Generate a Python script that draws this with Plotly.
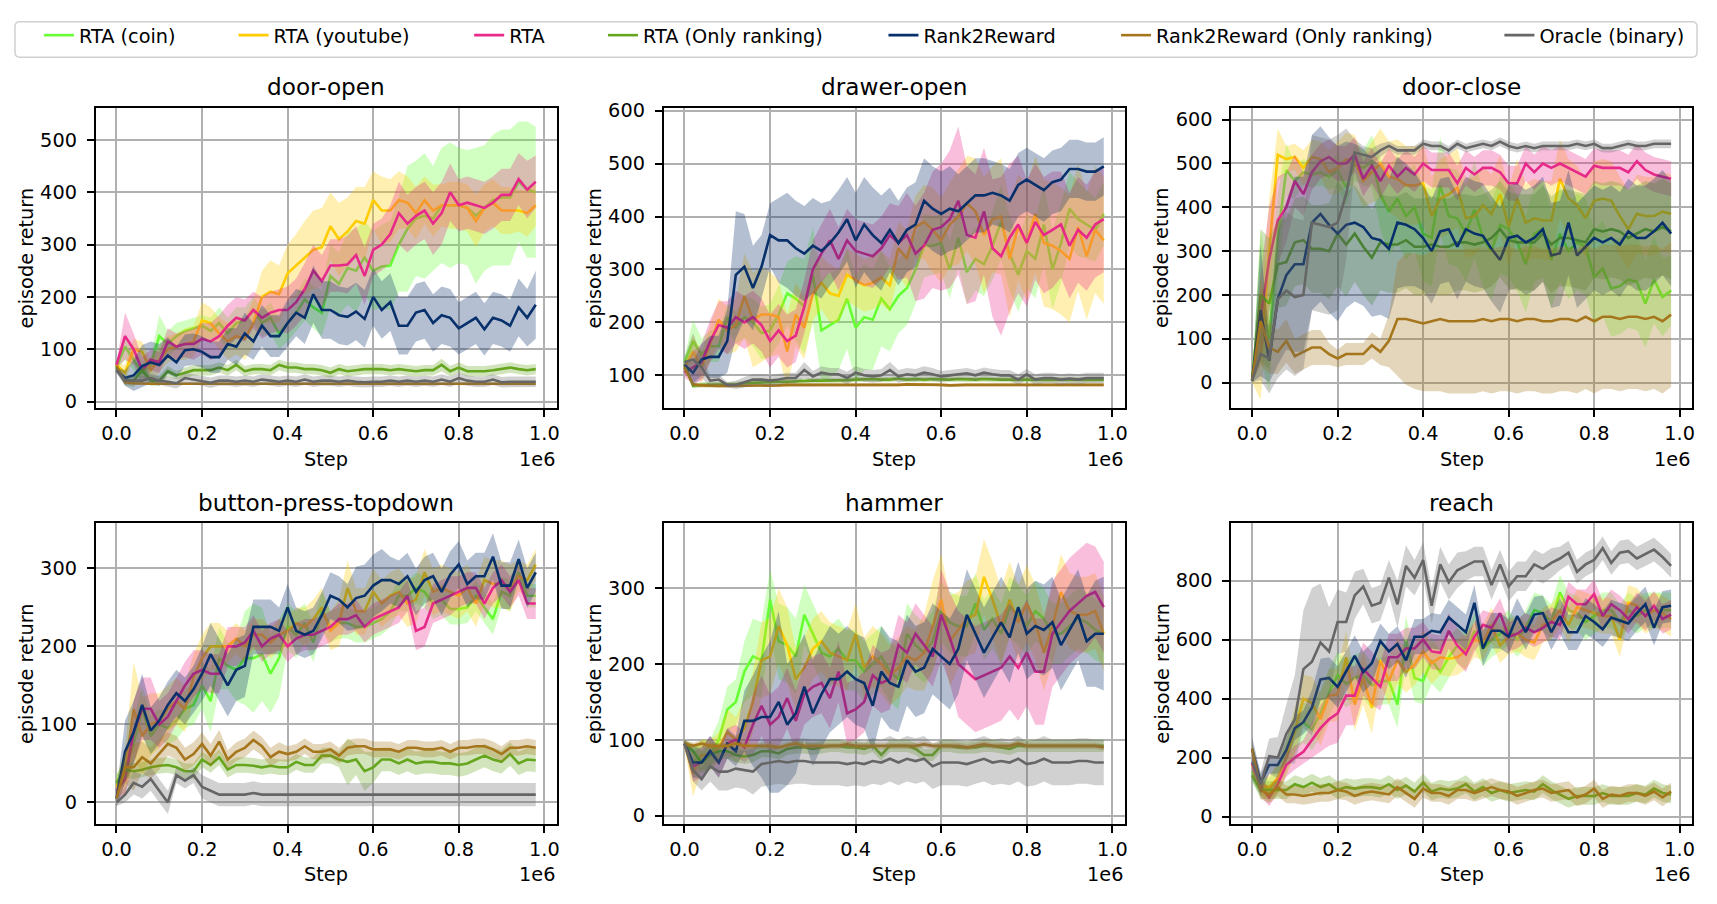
import plotly.graph_objects as go

STEPS = [0, 20000, 40000, 60000, 80000, 100000, 120000, 140000, 160000, 180000,
         200000, 220000, 240000, 260000, 280000, 300000, 320000, 340000, 360000, 380000,
         400000, 420000, 440000, 460000, 480000, 500000, 520000, 540000, 560000, 580000,
         600000, 620000, 640000, 660000, 680000, 700000, 720000, 740000, 760000, 780000,
         800000, 820000, 840000, 860000, 880000, 900000, 920000, 940000, 960000, 980000]

SERIES = ["RTA (coin)", "RTA (youtube)", "RTA", "RTA (Only ranking)",
          "Rank2Reward", "Rank2Reward (Only ranking)", "Oracle (binary)"]
COLORS = ["#66ff33", "#ffcc00", "#e7298a", "#66a61e", "#08306b", "#a6761d", "#666666"]
TASKS = ["door-open", "drawer-open", "door-close", "button-press-topdown", "hammer", "reach"]
X_TICKS = [0, 200000, 400000, 600000, 800000, 1000000]
X_TICK_TEXT = ["0.0", "0.2", "0.4", "0.6", "0.8", "1.0"]

# ---------------- door-open ----------------
do_coin = [65,105,80,55,70,125,110,125,135,140, 145,135,150,130,150,155,175,150,160,130,
           150,170,195,180,170,240,225,255,250,275, 250,258,260,300,330,350,355,350,375,375,
           375,370,355,370,385,390,390,420,405,400]
do_coin_sd = [5,25,20,20,15,40,25,25,20,20, 20,25,30,30,30,25,25,25,30,30,
              35,35,40,40,45,60,60,70,80,70, 75,80,85,90,120,110,120,100,110,120,
              110,110,130,120,125,130,130,115,130,125]
do_yt = [70,55,100,95,60,80,100,105,110,115, 155,150,130,115,125,120,150,200,210,205,
         245,260,275,290,295,335,310,325,345,340, 385,365,365,385,380,360,385,365,375,375,
         375,370,345,370,380,365,365,365,360,375]
do_yt_sd = [5,15,20,20,20,25,25,25,30,30, 35,30,30,35,35,40,45,50,60,55,
            55,60,70,75,75,65,70,65,65,70, 55,65,60,55,50,50,45,50,40,45,
            45,45,50,45,45,45,45,40,45,40]
do_rta = [70,125,100,60,80,75,115,105,110,110, 120,115,125,145,160,155,175,160,170,175,
          175,190,215,250,230,260,260,262,280,240, 290,300,320,360,340,355,365,340,360,400,
          375,380,375,370,380,395,395,425,405,420]
do_rta_sd = [5,45,30,25,20,20,25,25,25,30, 30,35,40,40,40,40,35,40,40,40,
             45,45,50,50,50,50,50,55,55,55, 50,50,55,60,55,55,55,60,60,55,
             50,50,50,50,50,50,50,50,55,50]
do_rank = [65,40,40,60,40,40,58,50,55,60, 60,60,65,60,70,58,62,62,60,70,
           65,65,62,62,60,55,62,58,60,62, 62,62,60,62,60,58,60,60,70,58,
           65,58,58,58,60,62,65,62,60,62]
do_rank_sd = [5,10,12,12,10,10,10,8,10,10, 10,10,10,10,10,10,10,10,10,10,
              10,10,10,10,10,10,10,10,10,10, 10,10,10,10,10,10,10,10,12,10,
              10,10,10,10,10,10,10,10,10,10]
do_r2r = [60,45,50,68,75,70,88,75,98,100, 95,85,85,110,105,130,115,145,125,125,
          150,170,160,205,175,175,165,162,172,158, 200,175,190,145,145,170,175,150,165,160,
          140,150,160,138,160,155,145,180,160,185]
do_r2r_sd = [5,15,30,40,40,40,35,30,30,30, 30,30,30,30,35,40,35,40,40,40,
             45,45,50,55,55,55,55,55,55,55, 55,55,55,55,55,55,55,55,55,55,
             50,50,50,50,50,50,50,55,55,65]
do_r2rrank = [68,37,35,34,34,34,34,34,34,34, 34,34,34,34,34,34,34,34,34,34,
              34,34,34,34,34,34,34,34,34,34, 34,34,34,34,34,34,34,34,34,34,
              34,34,34,34,34,34,34,34,34,34]
do_r2rrank_sd = [4,3,3,3,3,3,3,3,3,3, 3,3,3,3,3,3,3,3,3,3, 3,3,3,3,3,3,3,3,3,3,
                 3,3,3,3,3,3,3,3,3,3, 3,3,3,3,3,3,3,3,3,3]
do_oracle = [60,40,40,40,45,40,38,35,45,42, 40,36,40,40,38,40,38,42,40,38,
             40,38,42,38,40,40,38,40,38,37, 38,38,40,38,40,38,40,38,42,38,
             45,40,38,38,42,37,38,38,38,38]
do_oracle_sd = [5,8,8,8,8,8,10,10,10,10, 10,10,10,10,10,10,10,10,10,10,
                10,10,10,10,10,10,10,10,10,10, 10,10,10,10,10,10,10,10,10,10,
                10,10,10,10,10,10,10,10,10,10]

# ---------------- drawer-open ----------------
dr_coin = [125,165,140,155,155,210,190,210,200,180, 185,215,255,245,230,290,185,195,205,245,
           190,210,205,245,225,250,265,300,345,345, 350,300,360,295,320,310,345,390,330,290,
           335,320,385,300,350,415,395,385,375,405]
dr_coin_sd = [10,40,30,30,30,25,30,40,45,50, 50,55,60,80,90,90,95,100,95,95,
              100,100,95,90,80,70,70,65,60,55, 55,55,55,60,60,60,65,70,70,70,
              70,75,75,75,75,70,70,65,60,60]
dr_yt = [115,145,115,160,205,185,195,250,205,215, 215,210,145,215,190,255,275,255,250,290,
         280,270,275,285,270,340,320,380,390,375, 355,385,400,425,410,365,395,400,320,380,
         350,405,350,345,335,320,380,325,375,355]
dr_yt_sd = [10,30,30,35,40,45,50,80,90,90, 80,70,70,60,60,50,50,55,50,50,
            50,50,50,50,50,50,55,60,70,80, 80,80,90,90,100,110,100,110,110,100,
            110,110,120,120,120,120,120,120,120,120]
dr_rta = [105,115,125,165,195,190,210,200,210,195, 165,185,165,175,230,300,330,355,320,355,
          335,330,325,340,365,350,365,330,345,375, 380,395,430,365,360,410,340,325,360,385,
          350,390,365,375,385,345,375,360,385,395]
dr_rta_sd = [10,30,35,40,45,50,50,50,50,50, 50,50,50,50,50,55,55,60,60,60,
             60,60,60,60,60,70,80,90,100,110, 120,130,140,130,120,120,130,150,140,130,
             120,110,110,110,100,100,100,100,100,100]
dr_rank = [120,80,82,82,82,82,83,85,86,87, 87,88,88,89,89,90,90,90,90,91,
           92,93,93,92,92,94,92,93,92,93, 92,92,93,92,92,93,92,92,92,92,
           92,91,91,91,92,92,91,91,91,92]
dr_rank_sd = [8,5,5,5,5,5,5,5,5,5, 5,5,5,5,5,5,5,5,5,5, 5,5,5,5,5,5,5,5,5,5,
              5,5,5,5,5,5,5,5,5,5, 5,5,5,5,5,5,5,5,5,5]
dr_r2r = [120,105,130,135,135,165,290,305,265,305, 365,355,355,340,330,345,335,350,370,395,
          355,385,365,350,375,350,375,385,430,415, 405,415,410,425,440,440,445,440,430,460,
          470,460,450,465,470,490,490,485,485,495]
dr_r2r_sd = [10,20,30,40,40,60,120,100,80,60, 60,80,90,90,90,90,90,80,80,80,
             90,90,90,90,80,80,80,80,80,80, 80,80,70,70,70,70,60,60,60,60,
             60,60,60,60,60,55,55,55,55,55]
dr_r2rrank = [115,83,81,80,80,80,80,81,81,81, 81,81,82,82,82,82,81,81,81,82,
              82,82,82,82,82,82,83,83,82,83, 82,81,82,82,82,82,82,82,82,83,
              83,83,82,82,82,82,82,82,82,82]
dr_r2rrank_sd = [8,3,3,3,3,3,3,3,3,3, 3,3,3,3,3,3,3,3,3,3, 3,3,3,3,3,3,3,3,3,3,
                 3,3,3,3,3,3,3,3,3,3, 3,3,3,3,3,3,3,3,3,3]
dr_oracle = [125,130,115,90,92,82,82,87,92,92, 90,92,95,95,110,98,105,102,102,95,
             105,100,98,100,110,98,102,100,105,102, 98,100,102,104,100,105,102,100,100,92,
             102,92,95,95,92,94,92,95,95,95]
dr_oracle_sd = [10,50,20,10,10,5,8,10,10,10, 10,10,10,10,15,10,12,12,12,12,
                12,12,12,12,15,12,12,12,12,12, 10,10,10,10,10,10,10,10,10,10,
                10,10,10,10,10,10,10,10,10,10]

# ---------------- door-close ----------------
dc_coin = [5,200,100,330,485,460,480,475,480,470, 485,445,500,490,505,430,390,420,380,400,
           340,330,450,380,375,340,395,330,300,360, 350,320,270,340,350,280,340,300,320,310,
           240,260,215,220,235,230,180,235,195,210]
dc_coin_sd = [5,150,120,100,60,40,30,30,30,30, 40,40,40,40,60,80,100,100,100,100,
              110,110,110,110,110,110,110,110,110,110, 110,110,110,110,110,110,110,110,110,110,
              110,110,110,110,110,110,100,100,90,80]
dc_yt = [5,60,300,520,510,515,490,515,510,480, 490,510,505,460,480,500,470,465,450,450,
         455,380,420,430,445,375,380,405,385,430, 355,420,365,375,370,370,465,420,405,375,
         415,420,415,380,350,385,380,380,390,385]
dc_yt_sd = [5,100,120,60,30,30,40,40,40,50, 60,60,60,60,70,80,80,90,90,90,
            90,90,90,90,90,90,90,90,90,90, 90,90,90,90,90,90,90,90,90,90,
            90,90,90,90,90,90,90,90,90,90]
dc_rta = [5,150,280,370,400,460,430,480,505,515, 500,500,520,465,495,460,495,470,490,475,
          500,485,485,485,455,490,475,490,490,480, 455,455,500,480,500,490,500,490,480,470,
          495,490,490,490,480,505,485,475,470,465]
dc_rta_sd = [5,100,120,100,80,60,50,40,40,40, 40,40,40,40,40,40,40,40,40,40,
             40,40,40,40,40,40,40,40,40,40, 40,40,40,40,40,40,40,40,40,40,
             40,40,40,40,40,40,40,40,40,40]
dc_rank = [5,200,180,270,275,320,325,305,305,300, 340,315,340,310,285,320,315,315,325,310,
           310,315,310,310,320,320,315,320,330,350, 325,320,320,320,340,315,330,330,325,320,
           350,345,350,345,330,340,350,345,355,345]
dc_rank_sd = [5,150,150,100,100,100,100,100,100,110, 120,120,110,110,110,110,110,110,110,110,
              110,110,110,110,110,110,110,110,110,110, 110,110,110,110,110,110,110,110,110,110,
              110,110,110,110,110,110,110,110,110,110]
dc_r2r = [5,165,50,190,245,270,270,365,385,360, 340,360,365,355,330,325,305,365,360,350,
          330,300,345,350,310,350,340,335,305,280, 330,335,320,330,350,290,295,365,290,310,
          330,320,330,315,345,330,330,345,365,340]
dc_r2r_sd = [5,150,50,150,170,200,200,200,200,200, 200,190,180,180,180,170,160,150,140,130,
             120,120,120,120,120,120,120,120,120,120, 120,120,120,120,120,120,120,120,120,120,
             120,120,120,120,120,120,120,120,120,120]
dc_r2rrank = [5,140,80,70,95,60,70,80,80,65, 55,65,65,65,85,70,95,145,145,140,
              135,140,145,140,140,140,140,145,140,145, 145,140,145,145,140,140,145,145,140,150,
              140,150,150,145,150,150,145,150,140,155]
dc_r2rrank_sd = [5,100,60,50,50,40,40,40,40,25, 20,25,25,25,30,30,60,130,150,155,
                 155,160,165,165,165,165,165,165,165,165, 165,165,165,165,165,165,165,165,165,165,
                 165,165,165,165,165,165,165,165,165,165]
dc_oracle = [5,65,55,190,210,195,200,365,360,355, 365,430,525,520,515,530,540,530,530,530,
             545,540,540,530,545,535,540,545,540,550, 540,535,540,535,540,540,540,540,545,540,
             545,535,535,540,545,540,540,545,545,545]
dc_oracle_sd = [5,60,80,180,180,180,170,200,200,200, 200,150,30,20,20,15,10,10,10,10,
                10,10,10,10,10,10,10,10,10,10, 10,10,10,10,10,10,10,10,10,10,
                10,10,10,10,10,10,10,10,10,10]

# ---------------- button-press-topdown ----------------
bp_coin = [25,40,75,120,85,100,95,105,120,125, 150,130,185,175,170,185,185,190,165,185,
           225,215,230,205,245,225,230,230,225,225, 230,235,245,265,265,275,270,255,260,248,
           248,250,265,250,235,270,265,295,265,265]
bp_coin_sd = [10,20,30,30,25,20,20,25,25,25, 30,40,40,30,40,60,70,60,50,50,
              30,30,25,25,25,20,20,20,20,20, 20,20,20,20,20,20,20,20,20,20,
              20,20,20,20,20,20,20,15,15,15]
bp_yt = [20,40,120,85,100,105,120,130,120,160, 185,200,200,200,210,200,215,215,205,215,
         220,230,225,235,250,220,230,275,245,245, 270,255,265,270,255,260,295,270,275,270,
         265,275,255,285,280,280,275,290,285,305]
bp_yt_sd = [10,30,60,50,40,35,30,30,30,30, 30,30,30,20,20,20,20,20,20,20,
            20,20,25,25,25,25,30,35,30,30, 30,30,30,30,30,30,30,30,30,30,
            30,30,30,30,30,30,30,20,20,20]
bp_rta = [15,30,90,120,120,100,110,130,150,165, 170,165,165,200,200,205,220,200,210,215,
          200,210,215,215,220,225,235,235,240,225, 235,240,245,250,265,220,225,255,260,265,
          270,275,275,255,275,285,270,285,255,255]
bp_rta_sd = [10,20,40,40,40,30,30,30,30,30, 25,25,25,25,25,20,20,20,20,20,
             20,20,20,20,20,20,20,20,20,20, 20,20,20,20,20,25,25,25,25,25,
             20,20,20,20,20,20,20,20,20,20]
bp_rank = [25,42,40,42,45,47,48,45,40,40, 55,48,58,42,48,48,47,45,47,45,
           45,52,48,48,60,60,55,52,55,40, 45,55,55,50,55,50,52,52,50,50,
           48,50,55,60,55,52,62,50,55,54]
bp_rank_sd = [10,10,10,10,10,10,10,10,10,10, 10,10,10,10,10,10,10,10,10,10,
              10,10,10,10,10,10,10,30,20,25, 20,15,15,15,15,15,15,15,15,15,
              15,15,15,15,15,15,15,15,15,15]
bp_r2r = [5,65,90,125,92,105,125,140,130,145, 165,190,170,150,170,175,225,225,225,220,
          250,220,215,220,240,265,260,250,262,265, 278,285,285,280,290,270,285,290,270,292,
          305,280,290,290,315,278,278,312,275,295]
bp_r2r_sd = [10,40,40,40,30,30,30,30,30,30, 35,40,40,40,40,40,35,35,35,30,
             30,30,30,30,30,30,30,30,40,40, 40,40,30,30,30,30,30,30,30,30,
             30,30,30,30,30,30,30,25,25,25]
bp_r2rrank = [5,45,45,58,50,62,75,70,55,62, 75,60,78,55,65,70,80,72,58,65,
              62,65,72,65,65,68,60,70,72,72, 68,68,68,65,70,70,68,68,70,65,
              70,70,72,72,68,62,70,70,72,70]
bp_r2rrank_sd = [10,20,30,20,20,20,15,15,15,15, 15,15,15,12,12,12,12,12,12,12,
                 10,10,10,10,10,10,10,10,10,10, 10,10,10,10,10,10,10,10,10,10,
                 10,10,10,10,10,10,10,10,10,10]
bp_oracle = [0,10,25,20,30,15,0,35,28,35, 20,15,10,10,10,10,12,10,10,10,
             10,10,10,10,10,10,10,10,10,10, 10,10,10,10,10,10,10,10,10,10,
             10,10,10,10,10,10,10,10,10,10]
bp_oracle_sd = [5,10,15,15,15,15,15,10,10,10, 15,15,15,15,15,15,15,15,15,15,
                15,15,15,15,15,15,15,15,15,15, 15,15,15,15,15,15,15,15,15,15,
                15,15,15,15,15,15,15,15,15,15]

# ---------------- hammer ----------------
hm_coin = [95,70,80,80,100,140,150,190,210,205, 285,230,225,210,265,240,215,210,220,205,
           205,190,200,210,190,180,240,225,215,230, 270,255,250,250,280,245,260,240,275,265,
           250,270,260,240,240,250,260,255,245,240]
hm_coin_sd = [5,20,20,20,25,30,30,40,50,50, 40,50,50,50,40,40,40,40,40,40,
              40,40,40,40,40,40,40,40,40,40, 40,40,40,40,40,40,40,40,40,40,
              40,40,40,40,40,40,40,40,40,40]
hm_yt = [95,55,80,80,90,110,100,115,150,205, 210,250,225,180,195,220,230,215,210,205,
         240,195,210,200,185,195,210,205,215,250, 285,230,245,260,265,315,285,250,285,255,
         280,255,215,250,295,270,265,265,270,240]
hm_yt_sd = [5,30,20,20,20,30,30,40,40,50, 50,50,50,40,40,40,40,40,40,40,
            40,40,40,40,40,40,40,40,50,60, 60,60,50,50,50,50,50,50,50,50,
            50,50,50,50,50,50,50,50,50,50]
hm_rta = [95,65,70,85,70,95,100,90,120,145, 120,130,155,125,160,170,175,155,190,135,
          140,150,185,175,180,225,215,240,225,210, 265,235,200,190,180,185,190,195,210,195,
          215,190,190,240,255,270,280,290,295,275]
hm_rta_sd = [5,20,20,20,20,20,20,20,40,40, 40,40,40,40,40,40,40,40,40,40,
             40,40,40,40,40,40,40,40,40,40, 60,60,70,70,70,70,70,70,70,70,
             70,70,70,70,70,70,70,70,60,60]
hm_rank = [95,85,70,80,85,85,80,78,80,85, 85,82,88,90,90,88,90,92,92,90,
           90,88,92,80,92,92,92,88,80,80, 92,92,90,90,90,92,92,90,88,92,
           92,92,92,92,92,92,92,92,92,92]
hm_rank_sd = [5,10,15,15,10,10,10,10,10,8, 8,8,8,8,8,8,8,8,8,8,
              8,8,8,8,8,8,8,8,8,8, 8,8,8,8,8,8,8,8,8,8,
              8,8,8,8,8,8,8,8,8,8]
hm_r2r = [95,70,70,85,70,95,85,125,125,130, 130,150,120,135,170,135,160,180,180,190,
          180,175,145,190,175,170,205,190,195,220, 210,200,220,265,240,215,235,255,235,275,
          240,250,245,255,225,245,265,230,240,240]
hm_r2r_sd = [5,20,20,20,20,20,20,40,60,80, 100,120,80,80,70,70,70,70,60,60,
             60,60,60,60,60,60,60,60,60,60, 60,60,60,60,60,60,60,60,60,60,
             60,60,60,60,60,60,60,60,70,75]
hm_r2rrank = [95,92,95,92,92,92,95,92,92,92, 92,90,92,95,92,92,92,92,92,94,
              92,92,92,92,92,92,92,92,94,92, 92,92,92,90,92,94,92,92,92,95,
              92,92,92,92,92,92,92,92,92,90]
hm_r2rrank_sd = [4,4,4,4,4,4,4,4,4,4, 4,4,4,4,4,4,4,4,4,4, 4,4,4,4,4,4,4,4,4,4,
                 4,4,4,4,4,4,4,4,4,4, 4,4,4,4,4,4,4,4,4,4]
hm_oracle = [95,60,48,65,58,58,62,60,58,68, 70,72,70,72,72,70,70,70,70,68,
             70,68,72,70,75,70,75,72,75,65, 70,70,70,68,72,75,70,72,70,75,
             68,70,75,70,70,70,72,72,70,70]
hm_oracle_sd = [5,15,15,20,25,25,25,25,30,30, 30,30,30,30,30,30,30,30,30,30,
                30,30,30,30,30,30,30,30,30,30, 30,30,30,30,30,30,30,30,30,30,
                30,30,30,30,30,30,30,30,30,30]

# ---------------- reach ----------------
re_coin = [150,100,90,130,200,290,320,295,350,420, 480,450,470,480,445,460,460,380,600,470,
           460,530,490,540,580,560,630,570,600,620, 640,600,640,700,690,660,760,700,690,660,
           680,700,700,660,700,680,700,700,700,700]
re_coin_sd = [30,30,40,50,60,70,70,70,80,80, 80,80,80,80,80,80,80,80,80,80,
              80,80,70,70,60,60,60,60,60,60, 60,60,60,60,60,60,60,60,60,60,
              60,60,60,60,60,60,60,60,60,60]
re_yt = [175,105,100,130,200,290,400,385,330,410, 415,540,380,470,370,530,460,530,490,515,
         560,520,540,535,540,560,600,590,650,580, 610,620,600,590,650,660,700,650,710,700,
         690,680,680,600,725,715,680,700,690,670]
re_yt_sd = [30,30,40,50,60,80,80,90,90,90, 90,90,90,90,90,80,80,80,70,70,
            70,70,60,60,60,60,60,60,60,60, 60,60,60,60,60,60,60,60,60,60,
            60,60,60,60,60,60,60,60,60,60]
re_rta = [180,100,65,110,175,200,220,260,300,330, 350,410,410,500,470,440,540,540,570,570,
          600,560,555,630,580,550,610,650,640,690, 610,620,640,625,640,660,650,745,720,720,
          755,680,720,700,670,710,680,715,670,685]
re_rta_sd = [30,30,30,30,40,40,40,60,80,90, 100,100,100,90,90,80,80,80,70,70,
             60,60,60,60,60,60,50,50,50,50, 50,50,50,50,50,50,50,50,50,50,
             50,50,50,50,50,50,50,50,50,50]
re_rank = [140,90,90,90,90,110,100,115,100,110, 90,100,95,100,100,95,110,90,105,85,
           115,85,95,90,95,110,85,100,80,90, 80,85,90,85,110,90,75,60,70,70,
           70,80,70,70,70,80,75,95,80,75]
re_rank_sd = [20,30,30,30,30,30,30,30,30,30, 30,30,30,30,30,30,30,30,30,30,
              30,30,30,30,30,30,30,30,30,30, 30,30,30,30,30,30,30,30,30,30,
              30,30,30,30,30,30,30,30,30,30]
re_r2r = [230,115,175,175,225,300,320,370,465,470, 440,490,545,490,520,595,560,585,530,610,
          610,630,625,675,650,625,725,570,630,630, 610,680,625,685,690,625,680,625,625,680,
          660,635,675,665,655,690,720,640,710,715]
re_r2r_sd = [40,30,30,30,40,40,40,60,70,70, 70,70,70,70,70,60,60,60,60,60,
             60,60,60,60,60,60,60,60,60,60, 60,60,60,60,60,60,60,60,60,60,
             60,60,60,60,60,60,60,60,55,55]
re_r2rrank = [230,90,75,100,75,75,70,75,80,80, 90,85,70,80,85,80,75,100,80,60,
              95,80,80,70,90,90,80,90,100,90, 85,70,80,90,95,80,85,90,65,75,
              95,60,75,70,80,80,70,85,65,85]
re_r2rrank_sd = [30,30,30,30,30,30,30,30,30,30, 30,30,30,30,30,30,30,30,30,30,
                 30,30,30,30,30,30,30,30,30,30, 30,30,30,30,30,30,30,30,30,30,
                 30,30,30,30,30,30,30,30,30,30]
re_oracle = [185,110,205,200,280,330,500,525,590,560, 660,660,750,780,715,725,810,720,850,810,
             870,715,855,795,835,850,865,865,785,855, 780,815,815,855,840,860,875,895,830,855,
             870,910,860,895,900,875,890,905,880,850]
re_oracle_sd = [60,40,60,70,100,150,200,250,200,150, 110,100,80,60,60,60,60,80,70,60,
                60,60,60,60,60,50,50,50,50,50, 50,50,50,50,50,50,40,40,40,40,
                40,40,40,40,40,40,40,40,40,40]

MEANS = {
    "door-open": [do_coin, do_yt, do_rta, do_rank, do_r2r, do_r2rrank, do_oracle],
    "drawer-open": [dr_coin, dr_yt, dr_rta, dr_rank, dr_r2r, dr_r2rrank, dr_oracle],
    "door-close": [dc_coin, dc_yt, dc_rta, dc_rank, dc_r2r, dc_r2rrank, dc_oracle],
    "button-press-topdown": [bp_coin, bp_yt, bp_rta, bp_rank, bp_r2r, bp_r2rrank, bp_oracle],
    "hammer": [hm_coin, hm_yt, hm_rta, hm_rank, hm_r2r, hm_r2rrank, hm_oracle],
    "reach": [re_coin, re_yt, re_rta, re_rank, re_r2r, re_r2rrank, re_oracle],
}
SDS = {
    "door-open": [do_coin_sd, do_yt_sd, do_rta_sd, do_rank_sd, do_r2r_sd, do_r2rrank_sd, do_oracle_sd],
    "drawer-open": [dr_coin_sd, dr_yt_sd, dr_rta_sd, dr_rank_sd, dr_r2r_sd, dr_r2rrank_sd, dr_oracle_sd],
    "door-close": [dc_coin_sd, dc_yt_sd, dc_rta_sd, dc_rank_sd, dc_r2r_sd, dc_r2rrank_sd, dc_oracle_sd],
    "button-press-topdown": [bp_coin_sd, bp_yt_sd, bp_rta_sd, bp_rank_sd, bp_r2r_sd, bp_r2rrank_sd, bp_oracle_sd],
    "hammer": [hm_coin_sd, hm_yt_sd, hm_rta_sd, hm_rank_sd, hm_r2r_sd, hm_r2rrank_sd, hm_oracle_sd],
    "reach": [re_coin_sd, re_yt_sd, re_rta_sd, re_rank_sd, re_r2r_sd, re_r2rrank_sd, re_oracle_sd],
}
Y_RANGES = {
    "door-open": [-12.6, 561.8], "drawer-open": [38, 606], "door-close": [-58.5, 627.7],
    "button-press-topdown": [-27.4, 358], "hammer": [-10.8, 385.8], "reach": [-24.4, 994.8],
}
Y_TICKS = {
    "door-open": [0, 100, 200, 300, 400, 500], "drawer-open": [100, 200, 300, 400, 500, 600],
    "door-close": [0, 100, 200, 300, 400, 500, 600], "button-press-topdown": [0, 100, 200, 300],
    "hammer": [0, 100, 200, 300], "reach": [0, 200, 400, 600, 800],
}

W, H = 1717, 904
FONT = "DejaVu Sans"
FS = 19.3
X_DOMAINS = [[95.7 / W, 557.7 / W], [664.7 / W, 1126.7 / W], [1233.3 / W, 1695.0 / W]]
Y_DOMAINS = [[(H - 406.0) / H, (H - 101.0) / H], [(H - 827.7) / H, (H - 522.7) / H]]


def rgba(hexc, a):
    h = hexc.lstrip("#")
    return "rgba(%d,%d,%d,%.3f)" % (int(h[0:2], 16), int(h[2:4], 16), int(h[4:6], 16), a)


fig = go.Figure()
annotations = []
layout = {}
for k, task in enumerate(TASKS):
    r, c = divmod(k, 3)
    ax = "" if k == 0 else str(k + 1)
    xd, yd = X_DOMAINS[c], Y_DOMAINS[r]
    for s, name in enumerate(SERIES):
        m = MEANS[task][s]
        sd = SDS[task][s]
        lo = [a - b for a, b in zip(m, sd)]
        hi = [a + b for a, b in zip(m, sd)]
        fig.add_trace(go.Scatter(
            x=STEPS + STEPS[::-1], y=hi + lo[::-1], xaxis="x" + ax, yaxis="y" + ax,
            fill="toself", fillcolor=rgba(COLORS[s], 0.3), line=dict(width=0),
            mode="lines", hoverinfo="skip", showlegend=False))
        fig.add_trace(go.Scatter(
            x=STEPS, y=m, xaxis="x" + ax, yaxis="y" + ax, mode="lines", name=name,
            line=dict(color=COLORS[s], width=2.6),
            showlegend=(k == 0), legend=("legend" if s == 0 else "legend%d" % (s + 1))))
    common = dict(showgrid=True, gridcolor="#b0b0b0", gridwidth=1.5, zeroline=False,
                  showline=True, linecolor="black", linewidth=1.5, mirror=True,
                  ticks="outside", ticklen=7, tickwidth=1.5, tickcolor="black",
                  tickfont=dict(family=FONT, size=FS, color="black"))
    layout["xaxis" + ax] = dict(domain=xd, anchor="y" + ax, range=[-49000, 1029000],
                                tickvals=X_TICKS, ticktext=X_TICK_TEXT, ticklabelstandoff=0, **common)
    layout["yaxis" + ax] = dict(domain=yd, anchor="x" + ax, range=Y_RANGES[task],
                                tickvals=Y_TICKS[task], ticklabelstandoff=6, **common)
    xc = (xd[0] + xd[1]) / 2
    yc = (yd[0] + yd[1]) / 2
    annotations.append(dict(text=task, x=xc, y=yd[1], xref="paper", yref="paper",
                            yshift=21, xanchor="center", yanchor="middle", showarrow=False,
                            font=dict(family=FONT, size=23.2, color="black")))
    annotations.append(dict(text="Step", x=xc, y=yd[0], xref="paper", yref="paper",
                            yshift=-51, xanchor="center", yanchor="middle", showarrow=False,
                            font=dict(family=FONT, size=FS, color="black")))
    annotations.append(dict(text="1e6", x=xd[1], y=yd[0], xref="paper", yref="paper",
                            yshift=-51, xanchor="right", yanchor="middle", showarrow=False,
                            font=dict(family=FONT, size=FS, color="black")))
    annotations.append(dict(text="episode return", x=xd[0], y=yc, xref="paper", yref="paper",
                            xshift=-69, textangle=-90, xanchor="center", yanchor="middle",
                            showarrow=False, font=dict(family=FONT, size=FS, color="black")))

# legends: one per series so spacing matches the reference
LEGEND_TEXT_X = [79, 274, 510, 644, 925, 1158, 1542]
for s in range(len(SERIES)):
    key = "legend" if s == 0 else "legend%d" % (s + 1)
    layout[key] = dict(x=(LEGEND_TEXT_X[s] - 40) / W, xanchor="left", y=1 - 28 / H,
                       yanchor="middle", bgcolor="rgba(0,0,0,0)", borderwidth=0,
                       font=dict(family=FONT, size=FS, color="black"))

# legend frame
x0, x1 = 15 / W, 1700 / W
y0, y1 = 1 - 50 / H, 1 - 14 / H
rx, ry = 5 / W, 5 / H
path = ("M %f,%f L %f,%f Q %f,%f %f,%f L %f,%f Q %f,%f %f,%f L %f,%f Q %f,%f %f,%f L %f,%f Q %f,%f %f,%f Z" % (
    x0 + rx, y1, x1 - rx, y1, x1, y1, x1, y1 - ry, x1, y0 + ry, x1, y0, x1 - rx, y0,
    x0 + rx, y0, x0, y0, x0, y0 + ry, x0, y1 - ry, x0, y1, x0 + rx, y1))

fig.update_layout(
    width=W, height=H, margin=dict(l=0, r=0, t=0, b=0),
    paper_bgcolor="white", plot_bgcolor="white",
    font=dict(family=FONT, size=FS, color="black"),
    annotations=annotations,
    shapes=[dict(type="path", path=path, xref="paper", yref="paper",
                 line=dict(color="#d0d0d0", width=1.5), fillcolor="rgba(255,255,255,0.8)",
                 layer="below")],
    **layout)

fig.write_html("out.html")
